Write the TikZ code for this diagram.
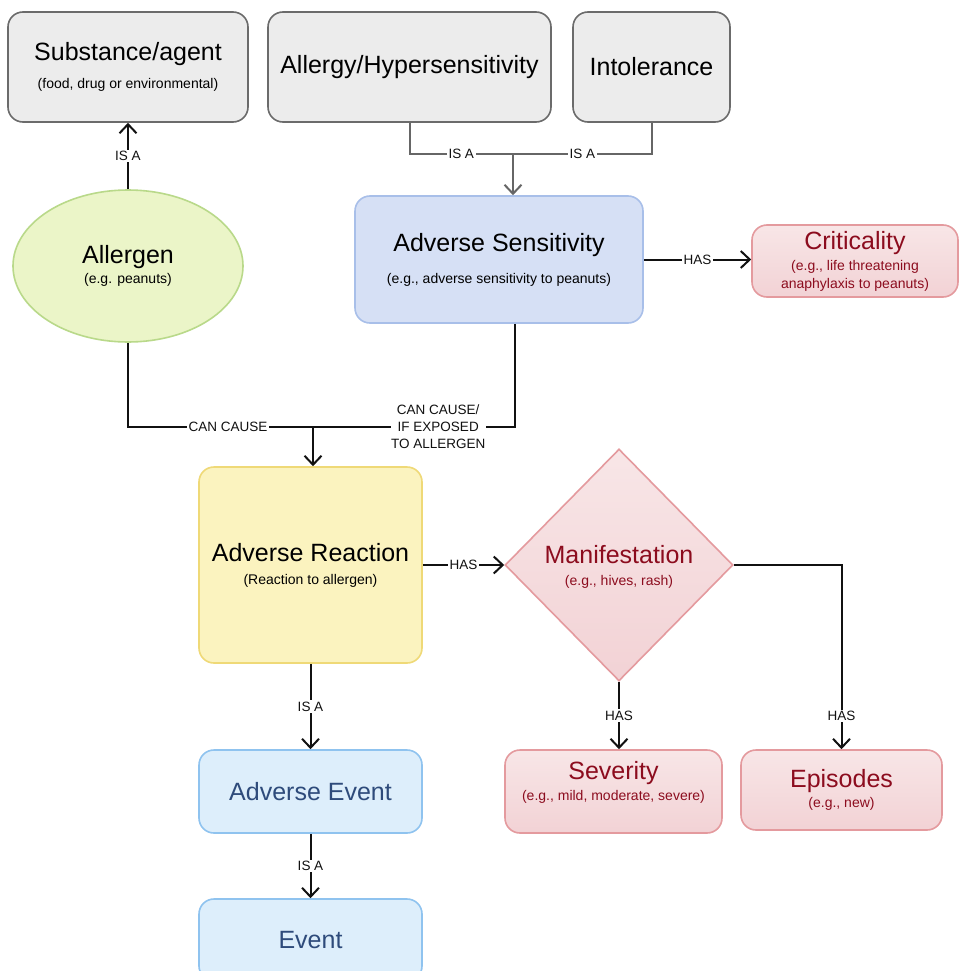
\documentclass[tikz,border=0pt]{standalone}
\usepackage{fontspec}
\setmainfont{Liberation Sans}
\usetikzlibrary{shapes.geometric,arrows.meta,calc}
\definecolor{grayfill}{HTML}{ECECEC}
\definecolor{graydraw}{HTML}{6B6B6B}
\definecolor{greenfill}{HTML}{EBF5C8}
\definecolor{greendraw}{HTML}{B9D98A}
\definecolor{bluefill}{HTML}{D6E0F5}
\definecolor{bluedraw}{HTML}{A8BFE9}
\definecolor{yelfill}{HTML}{FBF3BF}
\definecolor{yeldraw}{HTML}{EFD977}
\definecolor{lbfill}{HTML}{DDEEFB}
\definecolor{lbdraw}{HTML}{8FC3EF}
\definecolor{lbtext}{HTML}{2E4B7B}
\definecolor{pinktop}{HTML}{F8E6E7}
\definecolor{pinkbot}{HTML}{F2D2D5}
\definecolor{pinkdraw}{HTML}{E49A9E}
\definecolor{redtext}{HTML}{8C0C1E}
\definecolor{linecol}{HTML}{111111}
\definecolor{glinecol}{HTML}{666666}
\newcommand{\sbt}[1]{{\fontsize{14}{17}\selectfont #1}}
\tikzset{
  tf/.style={font=\fontsize{25}{#1}\selectfont},
  box/.style={rectangle, rounded corners=15pt, line width=1.6pt, align=center, inner sep=0pt},
  graybox/.style={box, fill=grayfill, draw=graydraw},
  bluebox/.style={box, fill=bluefill, draw=bluedraw},
  yelbox/.style={box, fill=yelfill, draw=yeldraw},
  lbbox/.style={box, fill=lbfill, draw=lbdraw, text=lbtext},
  pinkbox/.style={box, top color=pinktop, bottom color=pinkbot, draw=pinkdraw, text=redtext},
  lbl/.style={fill=white, inner sep=1.5pt, font=\fontsize{13.5}{17}\selectfont, text=linecol, align=center},
  conn/.style={line width=2pt, draw=linecol},
  gconn/.style={line width=2pt, draw=glinecol},
  arr/.style={conn, -{Straight Barb[length=9pt,width=17pt,line width=2pt]}},
  garr/.style={gconn, -{Straight Barb[length=9pt,width=17pt,line width=2pt]}},
}
\begin{document}
\begin{tikzpicture}[x=1pt,y=-1pt]
\useasboundingbox (0,0) rectangle (958,971);
\fill[white] (0,0) rectangle (958,971);

% top row
\node[graybox, tf=28, minimum width=240pt, minimum height=110pt] (sub) at (128,67)
  {Substance/agent\\\sbt{(food, drug or environmental)}};
\node[graybox, tf=28, minimum width=283pt, minimum height=110pt] (allergy) at (409.5,67)
  {Allergy/Hypersensitivity};
\node[graybox, tf=28, minimum width=157pt, minimum height=110pt] (intol) at (651.5,67)
  {Intolerance};

% allergen
\node[ellipse, tf=20, fill=greenfill, draw=greendraw, line width=1.6pt, minimum width=230pt, minimum height=152pt, align=center, inner sep=0pt] (allergen) at (128,266)
  {Allergen\\\sbt{(e.g. peanuts)}};

% adverse sensitivity
\node[bluebox, tf=32, minimum width=288pt, minimum height=127pt] (sens) at (499,259.5)
  {Adverse Sensitivity\\\sbt{(e.g., adverse sensitivity to peanuts)}};

% criticality
\node[pinkbox, tf=18, minimum width=206pt, minimum height=72pt] (crit) at (855,261)
  {Criticality\\[3pt]\sbt{(e.g., life threatening}\\\sbt{anaphylaxis to peanuts)}};

% adverse reaction
\node[yelbox, tf=23, minimum width=223pt, minimum height=196pt] (react) at (310.5,565)
  {Adverse Reaction\\\sbt{(Reaction to allergen)}};

% manifestation diamond
\node[diamond, top color=pinktop, bottom color=pinkbot, draw=pinkdraw, line width=1.6pt, minimum width=228pt, minimum height=232pt, inner sep=0pt] (manif) at (619,565) {};
\node[tf=22, align=center, text=redtext, inner sep=0pt] (maniftxt) at (619,567)
  {Manifestation\\\sbt{(e.g., hives, rash)}};

% events
\node[lbbox, tf=28, minimum width=223pt, minimum height=83pt] (aevent) at (310.5,791.5)
  {Adverse Event};
\node[lbbox, tf=28, minimum width=223pt, minimum height=82pt] (event) at (310.5,940)
  {Event};

% severity, episodes
\node[pinkbox, tf=21, minimum width=217pt, minimum height=83pt] (sev) at (613.5,791.5)
  {Severity\\\sbt{(e.g., mild, moderate, severe)}\\\mbox{}};
\node[pinkbox, tf=20, minimum width=201pt, minimum height=80pt] (epi) at (841.5,790)
  {Episodes\\\sbt{(e.g., new)}};

% connectors
\draw[arr] (allergen.north) -- node[lbl]{IS A} (sub.south);

\coordinate (j1) at (513,154);
\draw[gconn] (allergy.south) |- node[lbl, pos=0.75]{IS A} (j1);
\draw[gconn] (intol.south) |- node[lbl, pos=0.75]{IS A} (j1);
\draw[garr] (j1) -- (j1 |- sens.north);

\draw[arr] (sens.east) -- node[lbl]{HAS} (sens.east -| crit.west);

\coordinate (j2) at (313,427);
\coordinate (sensout) at ($(sens.south)+(16,0)$);
\draw[conn] (allergen.south) |- node[lbl, pos=0.77]{CAN CAUSE} (j2);
\draw[conn] (sensout) |- node[lbl, pos=0.69, inner sep=0.5pt]{CAN CAUSE/\\IF EXPOSED\\TO ALLERGEN} (j2);
\draw[arr] (j2) -- (j2 |- react.north);

\draw[arr] (react.east) -- node[lbl]{HAS} (manif.west);
\draw[arr] (manif.south) -- node[lbl]{HAS} (manif.south |- sev.north);
\draw[arr] (manif.east) -| node[lbl, pos=0.91]{HAS} (epi.north);

\draw[arr] (react.south) -- node[lbl]{IS A} (aevent.north);
\draw[arr] (aevent.south) -- node[lbl]{IS A} (event.north);
\end{tikzpicture}
\end{document}
